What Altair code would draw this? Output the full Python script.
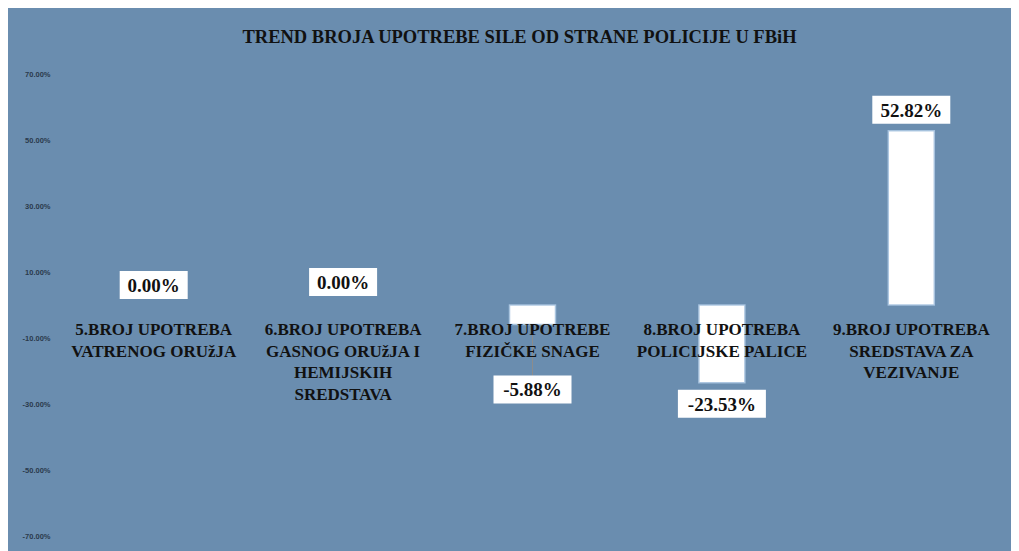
import altair as alt
import pandas as pd

# ---- data ----
categories = [
    "5.BROJ UPOTREBA\nVATRENOG ORUžJA",
    "6.BROJ UPOTREBA\nGASNOG ORUžJA I\nHEMIJSKIH\nSREDSTAVA",
    "7.BROJ UPOTREBE\nFIZIČKE SNAGE",
    "8.BROJ UPOTREBA\nPOLICIJSKE PALICE",
    "9.BROJ UPOTREBA\nSREDSTAVA ZA\nVEZIVANJE",
]
values = [0.0, 0.0, -0.0588, -0.2353, 0.5282]
y_ticks = [0.7, 0.5, 0.3, 0.1, -0.1, -0.3, -0.5, -0.7]

# ---- styling / label placement (pixels) ----
label_offset_px = [-20, -23, 65, 21, -21]
leader = [False, False, True, False, False]
PLOT_W, PLOT_H = 947, 462
DOMAIN = [-0.7, 0.7]
px_per_unit = PLOT_H / (DOMAIN[1] - DOMAIN[0])
BOX_H = 28

keys = [f"c{i}" for i in range(len(categories))]
labels = [f"{v * 100:.2f}%" for v in values]
df = pd.DataFrame({
    "key": keys,
    "cat": categories,
    "value": values,
    "label": labels,
    "label_y": [v - o / px_per_unit for v, o in zip(values, label_offset_px)],
    "leader": leader,
})
df["zero"] = 0.0
widths = [18 + 10 * len(t) for t in labels]
df["box"] = [
    f"M{-w/100:.4f},{-BOX_H/100:.4f}H{w/100:.4f}V{BOX_H/100:.4f}H{-w/100:.4f}Z"
    for w in widths
]

SERIF = "Liberation Serif"
x = alt.X("key:N", axis=None, sort=keys,
          scale=alt.Scale(paddingInner=0, paddingOuter=0))
yscale = alt.Scale(domain=DOMAIN, nice=False, zero=False)

base = alt.Chart(df)

bars = base.mark_bar(width=46, color="white", stroke="#a8c4e0",
                     strokeOpacity=0.9).encode(
    x=x,
    y=alt.Y("value:Q", scale=yscale,
            axis=alt.Axis(values=y_ticks, format=".2%", title=None,
                          grid=False, ticks=False, domain=False,
                          labelFont="Liberation Sans", labelFontSize=7.5,
                          labelFontWeight="bold", labelColor="#2a3a4c",
                          labelPadding=9,
                          labelExpr="replace(datum.label, '\u2212', '-')")),
    y2="zero:Q",
    strokeWidth=alt.condition("datum.value == 0", alt.value(0), alt.value(1.5)),
    opacity=alt.condition("datum.value == 0", alt.value(0), alt.value(1)),
)

lead = base.transform_filter("datum.leader").mark_rule(
    color="#8c8c8c", strokeWidth=1).encode(
    x=x, y=alt.Y("value:Q", scale=yscale), y2="label_y:Q")

cat_text = base.mark_text(font=SERIF, fontSize=17, fontWeight="bold",
                          color="#111111", baseline="alphabetic", dy=30,
                          lineHeight=21.7, lineBreak="\n").encode(
    x=x, y=alt.Y("zero:Q", scale=yscale), text="cat:N")

boxes = base.mark_point(filled=True, fill="white", opacity=1,
                        strokeWidth=0, size=10000).encode(
    x=x, y=alt.Y("label_y:Q", scale=yscale),
    shape=alt.Shape("box:N", scale=None))

val_text = base.mark_text(font=SERIF, fontSize=19, fontWeight="bold",
                          color="#111111", baseline="middle", dy=1).encode(
    x=x, y=alt.Y("label_y:Q", scale=yscale), text="label:N")

chart = alt.layer(bars, lead, cat_text, boxes, val_text).properties(
    width=PLOT_W, height=PLOT_H,
    title=alt.TitleParams(
        "TREND BROJA UPOTREBE SILE OD STRANE POLICIJE U FBiH",
        font=SERIF, fontSize=18.5, fontWeight="bold", color="#111111",
        anchor="middle", offset=24, dx=-13),
    background="#6a8daf",
    autosize=alt.AutoSizeParams(type="none"),
    padding={"left": 51, "top": 66, "right": 5, "bottom": 15},
).configure_view(stroke=None)

chart.save("out.html", embed_options={"renderer": "svg", "actions": False})
